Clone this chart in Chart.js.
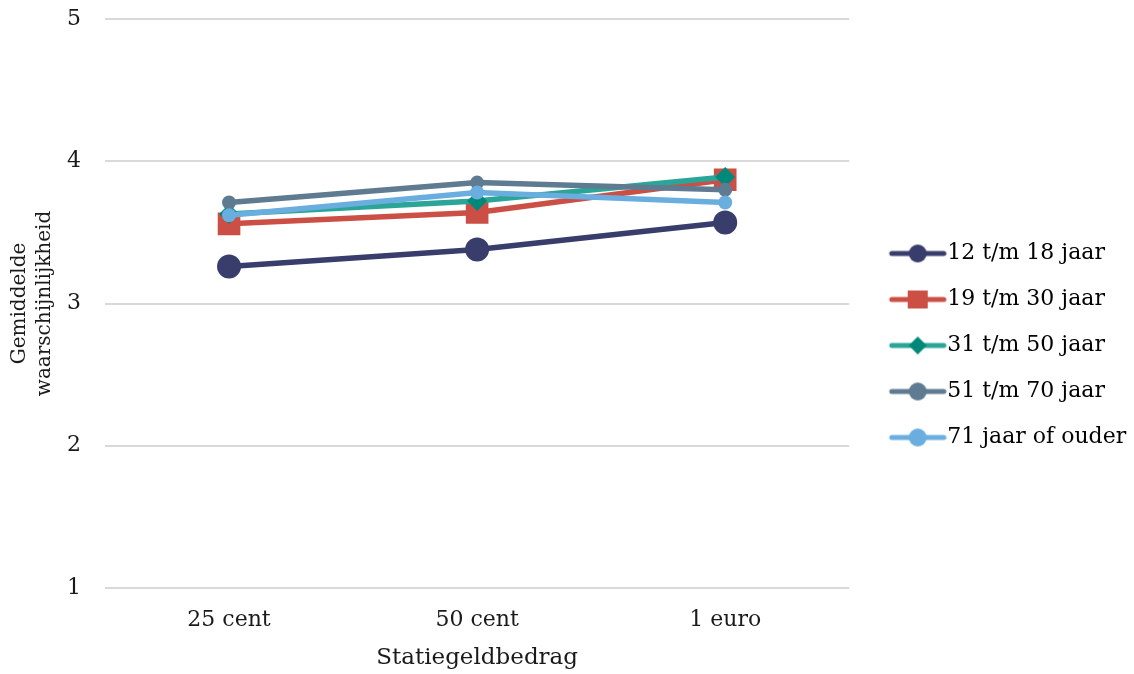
<!DOCTYPE html>
<html>
<head>
<meta charset="utf-8">
<script src="https://cdn.jsdelivr.net/npm/chart.js@4/dist/chart.umd.min.js"></script>
<style>
  html, body { margin: 0; padding: 0; background: #fff; }
  #wrap { width: 1134px; height: 674px; }
</style>
</head>
<body>
<div id="wrap"><canvas id="myChart" width="1134" height="674"></canvas></div>
<script>
const categories = ['25 cent', '50 cent', '1 euro'];
const seriesNames = ['12 t/m 18 jaar', '19 t/m 30 jaar', '31 t/m 50 jaar', '51 t/m 70 jaar', '71 jaar of ouder'];
const age12to18 = [3.26, 3.38, 3.57];
const age19to30 = [3.56, 3.64, 3.87];
const age31to50 = [3.63, 3.72, 3.89];
const age51to70 = [3.71, 3.85, 3.80];
const age71plus = [3.62, 3.78, 3.71];
const yTicks = [1, 2, 3, 4, 5];

const FONT = "'DejaVu Serif', serif";

const lineColors = ['#383d6c', '#cc4f45', '#2aa597', '#5f7b91', '#6aaee0'];
const pointColors = ['#383d6c', '#cc4f45', '#00897a', '#5f7b91', '#6aaee0'];
const pointStyles = ['circle', 'rect', 'rectRot', 'circle', 'circle'];
const pointSizes = [12, 16, 10, 7, 7];

// legend icon: line with marker, drawn off-centre so it sits close to the text
function legendIcon(i) {
  let c = document.createElement('canvas');
  c.width = 84; c.height = 24;
  let g = c.getContext('2d');
  g.strokeStyle = lineColors[i];
  g.lineWidth = 5;
  g.lineCap = 'round';
  g.beginPath(); g.moveTo(29, 12); g.lineTo(81, 12); g.stroke();
  g.fillStyle = pointColors[i];
  let s = pointStyles[i];
  let cx = 55;
  g.beginPath();
  if (s === 'rect') {
    g.rect(cx - 10, 12 - 9, 20, 18);
  } else if (s === 'rectRot') {
    g.moveTo(cx, 3); g.lineTo(cx + 9, 12); g.lineTo(cx, 21); g.lineTo(cx - 9, 12); g.closePath();
  } else {
    g.arc(cx, 12, 9, 0, Math.PI * 2);
  }
  g.fill();
  return c;
}

const values = [age12to18, age19to30, age31to50, age51to70, age71plus];

let ctx = document.getElementById('myChart');
let config = {
  type: 'line',
  data: {
    labels: categories,
    datasets: values.map(function (v, i) {
      return {
        label: seriesNames[i],
        data: v,
        borderColor: lineColors[i],
        backgroundColor: pointColors[i],
        borderWidth: 5.5,
        pointStyle: pointStyles[i],
        pointRadius: pointSizes[i],
        pointBackgroundColor: pointColors[i],
        pointBorderColor: pointColors[i],
        pointBorderWidth: 0,
        tension: 0,
        order: 5 - i
      };
    })
  },
  options: {
    responsive: false,
    animation: false,
    layout: { padding: { top: 19, left: 7, right: 4, bottom: 2 } },
    plugins: {
      tooltip: { enabled: false },
      legend: {
        position: 'right',
        align: 'center',
        labels: {
          usePointStyle: true,
          pointStyleWidth: 63,
          boxHeight: 24,
          color: '#1a1a1a',
          font: { family: FONT, size: 22 },
          padding: 24,
          generateLabels: function (chart) {
            return chart.data.datasets.map(function (ds, i) {
              return {
                text: ds.label,
                pointStyle: legendIcon(i),
                fillStyle: pointColors[i],
                strokeStyle: lineColors[i],
                lineWidth: 0,
                hidden: false,
                datasetIndex: i
              };
            });
          }
        }
      }
    },
    scales: {
      x: {
        offset: true,
        grid: { display: true, drawOnChartArea: false, color: 'rgba(0,0,0,0)', tickColor: 'rgba(0,0,0,0)', tickLength: 19 },
        border: { display: false },
        ticks: { color: '#1a1a1a', font: { family: FONT, size: 22 }, padding: 0 },
        title: { display: true, text: 'Statiegeldbedrag', color: '#1a1a1a', font: { family: FONT, size: 23 }, padding: { top: 11, bottom: 0 } }
      },
      y: {
        min: 1,
        max: 5,
        afterBuildTicks: function (axis) { axis.ticks = yTicks.map(function (t) { return { value: t }; }); },
        grid: { color: '#d9d9d9', lineWidth: 2, drawTicks: true, tickLength: 24, tickColor: 'rgba(0,0,0,0)' },
        border: { display: false },
        ticks: { color: '#1a1a1a', font: { family: FONT, size: 22 }, padding: 0 },
        title: {
          display: true,
          text: ['Gemiddelde', 'waarschijnlijkheid'],
          color: '#1a1a1a',
          font: { family: FONT, size: 20, lineHeight: 1.25 },
          padding: { top: 0, bottom: 10 }
        }
      }
    }
  }
};
let chart1 = new Chart(ctx, config);
</script>
</body>
</html>
